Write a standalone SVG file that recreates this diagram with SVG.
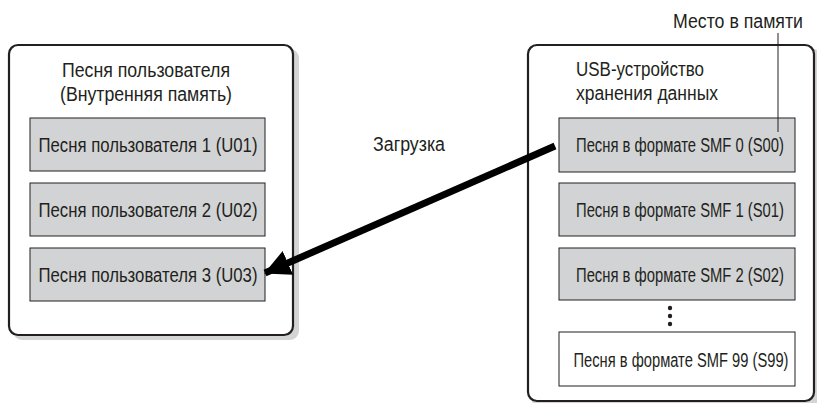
<svg xmlns="http://www.w3.org/2000/svg" width="817" height="403" viewBox="0 0 817 403">
<defs>
<style>
.outer{fill:#ffffff;stroke:#231f20;stroke-width:2.2}
.shadow{fill:#d4d4d4}
.item{fill:#d1d3d4;stroke:#231f20;stroke-width:1}
.itemw{fill:#ffffff;stroke:#231f20;stroke-width:1}
text{font-family:"Liberation Sans",Arial,sans-serif;font-size:19.5px;fill:#231f20}
.c{text-anchor:middle}
</style>
<marker id="ah" markerUnits="userSpaceOnUse" viewBox="0 0 26 26" refX="25" refY="13" markerWidth="26" markerHeight="26" orient="auto">
<path d="M0,0 L26,13 L0,26 Z" fill="#000"/>
</marker>
</defs>
<rect width="817" height="403" fill="#fff"/>
<g id="user-memory">
<rect class="shadow" x="13" y="49" width="286" height="291" rx="9"/>
<rect class="outer" x="9" y="45" width="284" height="290" rx="9"/>
<text class="c" x="146" y="77" textLength="168" lengthAdjust="spacingAndGlyphs">Песня пользователя</text>
<text class="c" x="146" y="101" textLength="172" lengthAdjust="spacingAndGlyphs">(Внутренняя память)</text>
</g>
<g id="u01"><rect class="item" x="30" y="118" width="235" height="53"/><text class="c" x="148" y="152" textLength="219" lengthAdjust="spacingAndGlyphs">Песня пользователя 1 (U01)</text></g>
<g id="u02"><rect class="item" x="30" y="183" width="235" height="53"/><text class="c" x="148" y="217" textLength="219" lengthAdjust="spacingAndGlyphs">Песня пользователя 2 (U02)</text></g>
<g id="u03"><rect class="item" x="30" y="248" width="235" height="53"/><text class="c" x="148" y="282" textLength="219" lengthAdjust="spacingAndGlyphs">Песня пользователя 3 (U03)</text></g>
<g id="usb">
<rect class="shadow" x="532" y="49" width="290" height="360" rx="9"/>
<rect class="outer" x="528" y="45" width="286" height="356" rx="9"/>
<text x="576" y="76" textLength="128" lengthAdjust="spacingAndGlyphs">USB-устройство</text>
<text x="576" y="100" textLength="142" lengthAdjust="spacingAndGlyphs">хранения данных</text>
</g>
<g id="s00"><rect class="item" x="559" y="118" width="236" height="54"/><text class="c" x="680" y="152" textLength="208" lengthAdjust="spacingAndGlyphs">Песня в формате SMF 0 (S00)</text></g>
<g id="s01"><rect class="item" x="559" y="183" width="236" height="53"/><text class="c" x="680" y="217" textLength="208" lengthAdjust="spacingAndGlyphs">Песня в формате SMF 1 (S01)</text></g>
<g id="s02"><rect class="item" x="559" y="248" width="236" height="52"/><text class="c" x="680" y="282" textLength="208" lengthAdjust="spacingAndGlyphs">Песня в формате SMF 2 (S02)</text></g>
<g id="dots"><circle cx="670" cy="308" r="2.2" fill="#231f20"/><circle cx="670" cy="316" r="2.2" fill="#231f20"/><circle cx="670" cy="324" r="2.2" fill="#231f20"/></g>
<g id="s99"><rect class="itemw" x="559" y="332" width="236" height="54"/><text class="c" x="681" y="367" textLength="215" lengthAdjust="spacingAndGlyphs">Песня в формате SMF 99 (S99)</text></g>
<g id="location-label">
<text x="803" y="28" text-anchor="end" textLength="130" lengthAdjust="spacingAndGlyphs">Место в памяти</text>
</g>
<g id="connectors">
<line x1="778" y1="33" x2="778" y2="132" stroke="#231f20" stroke-width="1"/>
<line x1="555" y1="146" x2="265" y2="273" stroke="#000" stroke-width="7" marker-end="url(#ah)"/>
<text x="373" y="151" textLength="72" lengthAdjust="spacingAndGlyphs">Загрузка</text>
</g>
</svg>
